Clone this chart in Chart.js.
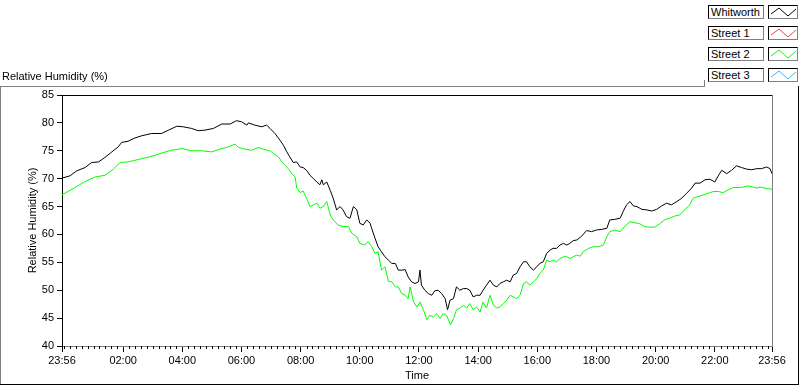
<!DOCTYPE html>
<html>
<head>
<meta charset="utf-8">
<title>Relative Humidity (%)</title>
<script src="https://cdn.jsdelivr.net/npm/chart.js@4.4.1/dist/chart.umd.min.js"></script>
<style>
    body { margin: 0; background: #fff; font-family: "Liberation Sans", Arial, sans-serif; font-size: 11px; color: #000; }
    #wrap { position: relative; width: 800px; height: 386px; overflow: hidden; }
    #chart { position: absolute; left: 0; top: 0; }
    .line { position: absolute; }
    #title { position: absolute; left: 2px; top: 70px; line-height: 13px; white-space: nowrap; }
    .row { position: absolute; left: 708px; height: 14px; }
    .name, .swatch {
        position: absolute; top: 0; height: 12px;
        border: 1px solid; border-color: #000 #808080 #808080 #000;
        background: #fff;
    }
    .name { left: 0; width: 52px; padding-left: 2px; line-height: 12px; white-space: nowrap; }
    .swatch { left: 60px; width: 28px; }
    .swatch svg { display: block; }
</style>
</head>
<body>
<div id="wrap">
    <canvas id="chart" width="800" height="386"></canvas>
    <div id="title">Relative Humidity (%)</div>
    <!-- outer panel edges -->
    <div class="line" style="left:0;top:86px;width:705px;height:1px;background:#808080"></div>
    <div class="line" style="left:704px;top:80px;width:1px;height:7px;background:#808080"></div>
    <div class="line" style="left:0;top:86px;width:1px;height:299px;background:#808080"></div>
    <div class="line" style="left:0;top:384px;width:799px;height:1px;background:#000"></div>
    <div class="line" style="left:798px;top:86px;width:1px;height:299px;background:#000"></div>
    <div id="legend"></div>
</div>
<script>
// ===== DATA =====
const seriesNames = ['Whitworth', 'Street 1', 'Street 2', 'Street 3'];
const seriesColors = ['#000000', '#f04848', '#00ff00', '#40b0f0'];

// minutes after 23:56 (start of the record)
const whitworthMin = [0, 16, 30, 47, 60, 74, 87, 101, 114, 121,
    134, 148, 162, 182, 202, 216, 233, 246, 263, 276,
    290, 307, 324, 341, 354, 364, 375, 378, 391, 405,
    415, 422, 432, 442, 449, 456, 462, 469, 476, 483,
    489, 496, 503, 510, 517, 523, 527, 530, 537, 544,
    550, 557, 564, 570, 577, 584, 591, 598, 604, 611,
    618, 625, 628, 635, 641, 648, 655, 662, 669, 676,
    682, 689, 696, 702, 709, 716, 723, 726, 729, 736,
    743, 750, 756, 763, 770, 777, 782, 787, 794, 800,
    807, 814, 821, 827, 834, 841, 848, 854, 861, 868,
    875, 882, 888, 895, 902, 909, 915, 922, 929, 936,
    942, 949, 956, 963, 969, 976, 983, 990, 996, 1003,
    1010, 1017, 1024, 1030, 1037, 1044, 1054, 1064, 1074, 1084,
    1094, 1105, 1111, 1121, 1132, 1138, 1145, 1152, 1159, 1166,
    1176, 1186, 1196, 1206, 1216, 1226, 1236, 1247, 1257, 1267,
    1277, 1284, 1294, 1304, 1314, 1324, 1331, 1338, 1348, 1358,
    1368, 1378, 1389, 1399, 1409, 1419, 1429, 1436, 1440];
const whitworthRH = [70.1, 70.5, 71.4, 72.0, 72.9, 73.0, 73.8, 74.8, 75.7, 76.5,
    76.7, 77.3, 77.7, 78.1, 78.1, 78.7, 79.4, 79.3, 79.0, 78.6,
    78.7, 79.0, 79.8, 79.8, 80.4, 80.2, 79.6, 80.0, 79.6, 79.3,
    79.6, 79.0, 78.1, 76.9, 76.0, 74.8, 73.9, 72.9, 73.0, 72.1,
    72.0, 71.5, 70.6, 70.0, 69.4, 68.9, 69.8, 68.9, 69.4, 67.9,
    66.5, 64.4, 65.0, 64.4, 63.2, 62.9, 65.0, 64.4, 62.0, 61.7,
    62.6, 62.0, 61.1, 59.3, 57.8, 56.9, 56.0, 55.4, 54.8, 54.8,
    53.6, 53.6, 53.7, 52.4, 51.5, 51.2, 51.5, 53.6, 50.9, 50.0,
    49.4, 49.1, 49.9, 50.0, 49.4, 48.5, 46.5, 48.2, 48.5, 50.6,
    50.0, 50.3, 50.3, 50.0, 48.8, 49.1, 49.1, 50.0, 50.9, 51.8,
    50.9, 50.6, 51.2, 51.5, 51.8, 51.5, 52.7, 53.0, 54.2, 55.1,
    55.1, 54.2, 53.6, 54.2, 54.8, 55.1, 56.6, 57.2, 57.5, 57.5,
    58.1, 58.4, 58.1, 58.4, 58.9, 59.0, 59.7, 60.7, 60.5, 60.8,
    60.9, 61.1, 62.6, 62.7, 62.9, 64.1, 65.3, 65.9, 65.1, 65.0,
    64.5, 64.4, 64.2, 64.5, 65.1, 65.6, 65.3, 65.9, 66.5, 67.4,
    68.3, 69.2, 69.2, 69.8, 69.9, 69.4, 70.5, 71.5, 70.9, 71.5,
    72.3, 72.0, 71.7, 71.6, 71.8, 71.8, 72.1, 71.8, 70.9];

const street1Min = [];
const street1RH = [];

const street2Min = [0, 26, 47, 67, 87, 104, 118, 134, 148, 168,
    189, 202, 222, 243, 263, 283, 304, 317, 337, 351,
    358, 371, 385, 398, 412, 422, 429, 439, 446, 452,
    459, 466, 473, 476, 483, 489, 496, 503, 510, 517,
    523, 530, 537, 544, 550, 560, 570, 581, 588, 598,
    604, 614, 621, 628, 635, 641, 648, 655, 662, 669,
    676, 682, 689, 696, 702, 706, 713, 720, 726, 733,
    740, 746, 753, 760, 767, 773, 780, 788, 794, 800,
    807, 814, 821, 827, 834, 841, 848, 854, 861, 868,
    875, 882, 888, 895, 902, 909, 915, 922, 929, 936,
    942, 949, 956, 963, 969, 976, 983, 990, 996, 1003,
    1010, 1017, 1024, 1030, 1037, 1044, 1051, 1057, 1068, 1078,
    1088, 1098, 1105, 1111, 1121, 1132, 1142, 1152, 1162, 1172,
    1182, 1192, 1202, 1212, 1222, 1232, 1243, 1253, 1263, 1273,
    1280, 1290, 1301, 1311, 1321, 1331, 1341, 1351, 1361, 1371,
    1382, 1392, 1402, 1409, 1416, 1426, 1440];
const street2RH = [67.1, 68.4, 69.5, 70.3, 70.6, 71.7, 72.9, 73.0, 73.3, 73.7,
    74.2, 74.6, 75.1, 75.4, 75.0, 75.0, 74.8, 75.2, 75.7, 76.2,
    75.6, 75.3, 75.1, 75.6, 75.2, 75.0, 74.5, 73.9, 73.0, 72.4,
    71.8, 70.9, 70.3, 68.3, 67.5, 67.8, 66.5, 65.0, 65.3, 65.6,
    64.7, 65.0, 65.9, 63.5, 62.6, 61.7, 61.4, 61.4, 60.2, 59.6,
    58.4, 58.1, 58.7, 57.8, 56.6, 56.9, 53.6, 54.2, 51.6, 51.5,
    50.6, 50.6, 49.4, 49.1, 48.5, 50.6, 47.9, 47.0, 47.9, 46.5,
    44.7, 45.5, 45.2, 45.8, 44.9, 45.8, 45.5, 43.8, 44.9, 46.5,
    46.8, 47.3, 46.8, 47.6, 46.5, 47.0, 46.1, 47.9, 46.8, 49.1,
    47.3, 46.8, 47.0, 47.6, 48.2, 49.1, 48.8, 48.5, 49.1, 51.2,
    51.5, 50.9, 51.5, 52.1, 53.0, 53.6, 55.4, 55.1, 55.4, 55.1,
    55.7, 56.0, 56.0, 55.7, 56.0, 56.3, 56.1, 56.9, 57.5, 57.8,
    57.8, 58.1, 59.6, 60.5, 60.8, 60.5, 61.5, 62.3, 62.1, 61.9,
    61.4, 61.3, 61.3, 61.9, 62.6, 62.9, 63.3, 63.5, 64.4, 65.3,
    66.5, 66.8, 67.1, 67.4, 67.7, 67.7, 67.5, 68.0, 68.4, 68.4,
    68.5, 68.7, 68.5, 68.3, 68.5, 68.3, 68.1];

const street3Min = [];
const street3RH = [];

const tickMinutes = [0, 124, 244, 364, 484, 604, 724, 844, 964, 1084, 1204, 1324, 1440];
const tickLabels = ['23:56', '02:00', '04:00', '06:00', '08:00', '10:00', '12:00',
    '14:00', '16:00', '18:00', '20:00', '22:00', '23:56'];

const yMin = 40, yMax = 85, yStep = 5;

// ===== LEGEND =====
const seriesMin = [whitworthMin, street1Min, street2Min, street3Min];
const seriesRH = [whitworthRH, street1RH, street2RH, street3RH];

document.getElementById('legend').innerHTML = seriesNames.map((name, i) => `
    <div class="row" style="top:${5 + i * 21}px">
        <div class="name">${name}</div>
        <div class="swatch">
            <svg width="28" height="12"><polyline points="2,8 10,2 19,10 27,3"
                fill="none" stroke="${seriesColors[i]}" stroke-width="1"/></svg>
        </div>
    </div>
`).join('');

// ===== CHART =====
const font = { family: 'Liberation Sans', size: 11 };

const framePlugin = {
    id: 'frame',
    afterDraw(chart) {
        const { ctx, chartArea: a, scales: { x } } = chart;
        ctx.save();
        ctx.lineWidth = 1;
        // top edge dark, right edge light
        ctx.strokeStyle = '#000';
        ctx.beginPath();
        ctx.moveTo(a.left, a.top + 0.5);
        ctx.lineTo(a.right, a.top + 0.5);
        ctx.stroke();
        ctx.strokeStyle = '#808080';
        ctx.beginPath();
        ctx.moveTo(a.right + 0.5, a.top);
        ctx.lineTo(a.right + 0.5, a.bottom);
        ctx.stroke();
        // minor ticks every 12 minutes of clock time
        ctx.strokeStyle = '#000';
        ctx.beginPath();
        for (let m = 4; m < 1440; m += 12) {
            if (tickMinutes.includes(m)) continue;
            const px = Math.round(x.getPixelForValue(m)) + 0.5;
            ctx.moveTo(px, a.bottom);
            ctx.lineTo(px, a.bottom + 3);
        }
        ctx.stroke();
        ctx.restore();
    }
};

new Chart(document.getElementById('chart'), {
    type: 'line',
    data: {
        datasets: seriesNames.map((name, i) => ({
            label: name,
            data: seriesMin[i].map((m, j) => ({ x: m, y: seriesRH[i][j] })),
            borderColor: seriesColors[i],
            borderWidth: 1,
            pointRadius: 0,
            tension: 0,
            fill: false
        }))
    },
    options: {
        responsive: false,
        animation: false,
        devicePixelRatio: 1,
        layout: { padding: { top: 95, right: 28, left: 0, bottom: 0 } },
        plugins: { legend: { display: false }, tooltip: { enabled: false } },
        scales: {
            x: {
                type: 'linear',
                min: 0,
                max: 1440,
                afterBuildTicks: scale => { scale.ticks = tickMinutes.map(v => ({ value: v })); },
                afterFit: scale => { scale.height = 40; },
                ticks: {
                    autoSkip: false,
                    maxRotation: 0,
                    color: '#000',
                    font,
                    padding: 2,
                    callback: v => tickLabels[tickMinutes.indexOf(v)]
                },
                grid: { drawOnChartArea: false, tickLength: 6, tickColor: '#000' },
                border: { color: '#808080' },
                title: { display: true, text: 'Time', color: '#000', font, padding: { top: 0, bottom: 3 } }
            },
            y: {
                min: yMin,
                max: yMax,
                afterFit: scale => { scale.width = 62; },
                ticks: { stepSize: yStep, color: '#000', font, padding: 3 },
                grid: { drawOnChartArea: false, tickLength: 5, tickColor: '#000' },
                border: { color: '#000' },
                title: { display: true, text: 'Relative Humidity (%)', color: '#000', font, padding: { top: 26, bottom: 0 } }
            }
        }
    },
    plugins: [framePlugin]
});
</script>
</body>
</html>
